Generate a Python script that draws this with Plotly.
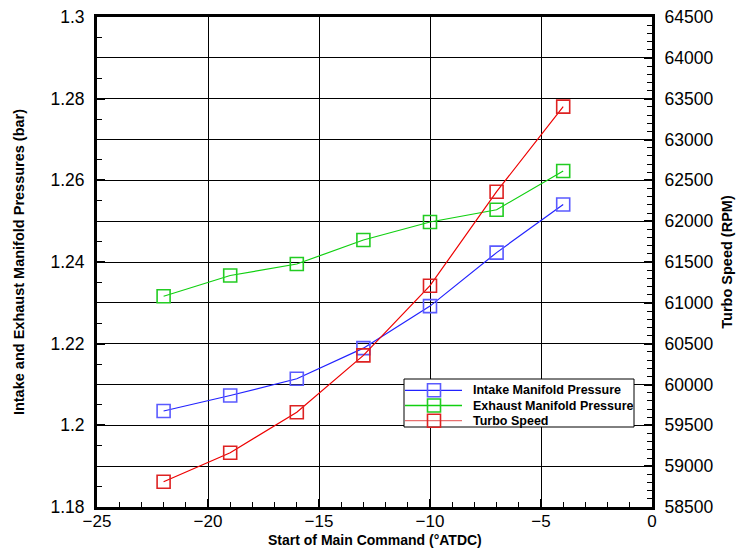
import plotly.graph_objects as go

# Start of main injection command (deg ATDC)
soi = [-22, -19, -16, -13, -10, -7, -4]

# Manifold pressures (bar)
intake_pressure = [1.2035, 1.2073, 1.2114, 1.2189, 1.2292, 1.2423, 1.2541]
exhaust_pressure = [1.2316, 1.2367, 1.2395, 1.2454, 1.2498, 1.2528, 1.2623]

# Turbocharger speed (RPM)
turbo_speed = [58810, 59165, 59660, 60357, 61210, 62361, 63402]

series_names = ["Intake Manifold Pressure", "Exhaust Manifold Pressure", "Turbo Speed"]
line_colors = ["#2222ff", "#10d010", "#ee0000"]
marker_colors = ["#5a5aff", "#22cc22", "#dd2222"]
legend_line_colors = ["#2222ff", "#10d010", "#e87070"]

FONT = "Liberation Sans, Arial, sans-serif"

W, H = 741, 548
ML, MR, MT, MB = 97, 89, 17, 41
PW, PH = W - ML - MR, H - MT - MB


def px_x(px):
    return (px - ML) / PW


def px_y(py):
    return (H - MB - py) / PH


fig = go.Figure()

for name, ys, lc, mc, axis in zip(
        series_names, [intake_pressure, exhaust_pressure, turbo_speed],
        line_colors, marker_colors, ["y", "y", "y2"]):
    fig.add_trace(go.Scatter(
        x=soi, y=ys, name=name, yaxis=axis, showlegend=False,
        mode="lines+markers",
        line=dict(color=lc, width=1.2),
        marker=dict(symbol="square-open", size=13, color=mc,
                    line=dict(width=1.6, color=mc)),
    ))

# Boxed legend in the lower right of the plot area
shapes = [dict(type="rect", xref="paper", yref="paper",
               x0=px_x(404), x1=px_x(634), y0=px_y(427), y1=px_y(379),
               fillcolor="white", line=dict(color="black", width=1), layer="above")]
annotations = []
for i, (name, llc, mc) in enumerate(zip(series_names, legend_line_colors, marker_colors)):
    cy = 390.3 + i * 15.2
    shapes.append(dict(type="line", xref="paper", yref="paper",
                       x0=px_x(405), x1=px_x(462), y0=px_y(cy), y1=px_y(cy),
                       line=dict(color=llc, width=1.3), layer="above"))
    shapes.append(dict(type="rect", xref="paper", yref="paper",
                       x0=px_x(427.5), x1=px_x(440.5), y0=px_y(cy + 6.5), y1=px_y(cy - 6.5),
                       line=dict(color=mc, width=1.6), layer="above"))
    annotations.append(dict(xref="paper", yref="paper", x=px_x(471), y=px_y(cy),
                            xanchor="left", yanchor="middle", showarrow=False,
                            text=name,
                            font=dict(family=FONT, size=12.5, color="black", weight="bold")))

# x-axis title, placed just under the tick labels
annotations.append(dict(xref="paper", yref="paper", x=0.5, y=px_y(539.5),
                        xanchor="center", yanchor="middle", showarrow=False,
                        text="Start of Main Command (°ATDC)",
                        font=dict(family=FONT, size=14, color="black", weight="bold")))

tickfont = dict(family=FONT, size=17.5, color="black")
titlefont = dict(family=FONT, size=14.5, color="black", weight="bold")

fig.update_layout(
    width=W, height=H,
    margin=dict(l=ML, r=MR, t=MT, b=MB),
    paper_bgcolor="white", plot_bgcolor="white",
    font=dict(family=FONT, color="black"),
    shapes=shapes, annotations=annotations,
    showlegend=False,
    xaxis=dict(
        range=[-25, 0], dtick=5, tick0=0, automargin=False,
        showgrid=True, gridcolor="black", gridwidth=1.3,
        zeroline=False,
        showline=True, linecolor="black", linewidth=3, mirror=True,
        ticks="inside", ticklen=8, tickwidth=1.5, tickcolor="black",
        minor=dict(dtick=1, ticks="inside", ticklen=5, tickwidth=1, tickcolor="black", showgrid=False),
        tickfont=dict(family=FONT, size=17, color="black"), ticklabelstandoff=-3,
    ),
    yaxis=dict(
        range=[1.18, 1.3], dtick=0.02, tick0=1.18, automargin=False,
        showgrid=False, zeroline=False,
        showline=True, linecolor="black", linewidth=3,
        ticks="inside", ticklen=8, tickwidth=1.5, tickcolor="black",
        minor=dict(dtick=0.005, ticks="inside", ticklen=5, tickwidth=1, tickcolor="black", showgrid=False),
        tickfont=tickfont, ticklabelstandoff=6,
        title=dict(text="Intake and Exhaust Manifold Pressures (bar)", font=titlefont, standoff=23),
    ),
    yaxis2=dict(
        range=[58500, 64500], dtick=500, tick0=58500, automargin=False,
        overlaying="y", side="right",
        showgrid=True, gridcolor="black", gridwidth=1.3,
        zeroline=False, tickformat="d",
        showline=True, linecolor="black", linewidth=3,
        ticks="inside", ticklen=8, tickwidth=1.5, tickcolor="black",
        minor=dict(dtick=100, ticks="inside", ticklen=5, tickwidth=1, tickcolor="black", showgrid=False),
        tickfont=tickfont, ticklabelstandoff=6,
        title=dict(text="Turbo Speed (RPM)", font=titlefont, standoff=10),
    ),
)

fig.write_html("out.html")
